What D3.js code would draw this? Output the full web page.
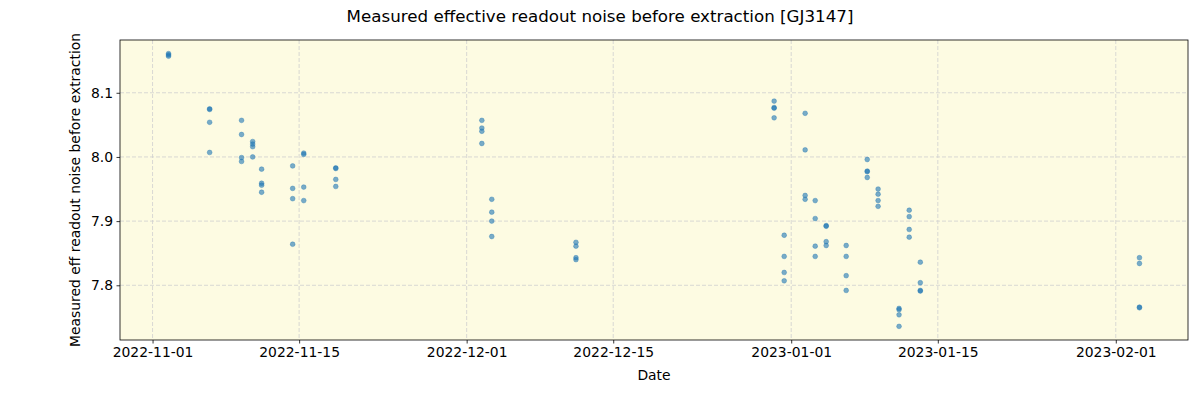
<!DOCTYPE html>
<html><head><meta charset="utf-8">
<script src="https://cdn.jsdelivr.net/npm/d3@7"></script>
<style>body{margin:0;background:#fff;}svg{font-family:"DejaVu Sans",sans-serif;}</style>
</head><body>
<svg id="chart" width="1200" height="400"></svg>
<script>
const obsTimes = [
  "2022-11-02T12:40","2022-11-06T10:50","2022-11-09T12:00","2022-11-10T13:30",
  "2022-11-11T10:00","2022-11-14T09:10","2022-11-15T10:35","2022-11-18T12:00",
  "2022-12-02T10:50","2022-12-03T09:35","2022-12-11T10:35","2022-12-30T08:50",
  "2022-12-31T07:55","2023-01-02T07:55","2023-01-03T07:00","2023-01-04T08:10",
  "2023-01-06T06:00","2023-01-08T06:15","2023-01-09T07:10","2023-01-11T07:10",
  "2023-01-12T06:30","2023-01-13T07:55","2023-02-03T06:15"
];
const noiseValues = [
  [8.161,8.159,8.157],
  [8.075,8.074,8.054,8.007],
  [8.057,8.035,7.999,7.993],
  [8.024,8.020,8.016,8.000],
  [7.981,7.959,7.956,7.945],
  [7.986,7.951,7.935,7.864],
  [8.006,8.004,7.953,7.932],
  [7.983,7.982,7.965,7.954],
  [8.057,8.045,8.040,8.021],
  [7.934,7.914,7.900,7.876],
  [7.867,7.861,7.843,7.840],
  [8.087,8.077,8.076,8.061],
  [7.878,7.845,7.820,7.807],
  [8.068,8.011,7.940,7.934],
  [7.932,7.904,7.861,7.845],
  [7.893,7.892,7.868,7.862],
  [7.862,7.845,7.815,7.792],
  [7.996,7.978,7.977,7.968],
  [7.950,7.942,7.932,7.923],
  [7.764,7.762,7.754,7.736],
  [7.917,7.907,7.887,7.875],
  [7.836,7.804,7.792,7.791],
  [7.843,7.834,7.766,7.765]
];
const xTickLabels = ["2022-11-01","2022-11-15","2022-12-01","2022-12-15","2023-01-01","2023-01-15","2023-02-01"];
const yTickValues = [7.8, 7.9, 8.0, 8.1];

const parse = d3.isoParse;
const points = [];
obsTimes.forEach((t, i) => noiseValues[i].forEach(v => points.push({date: parse(t), value: v})));

const svg = d3.select("#chart");
const L = 120, R = 1188, T = 40, B = 340;

const dates = points.map(p => p.date);
const dmin = d3.min(dates), dmax = d3.max(dates);
const span = dmax - dmin;
const x = d3.scaleTime().domain([new Date(+dmin - span*0.05), new Date(+dmax + span*0.05)]).range([L, R]);
const vmin = d3.min(points, p => p.value), vmax = d3.max(points, p => p.value);
const vs = vmax - vmin;
const y = d3.scaleLinear().domain([vmin - vs*0.05, vmax + vs*0.05]).range([B, T]);

svg.append("rect").attr("x", L).attr("y", T).attr("width", R-L).attr("height", B-T).attr("fill", "#fdfbe2");

const xTicks = xTickLabels.map(s => d3.timeParse("%Y-%m-%d")(s));
const g = svg.append("g");
g.selectAll(".vg").data(xTicks).join("line")
  .attr("x1", d => x(d)).attr("x2", d => x(d)).attr("y1", T).attr("y2", B)
  .attr("stroke", "#cfcfcf").attr("stroke-width", 0.8).attr("stroke-dasharray", "4,2");
g.selectAll(".hg").data(yTickValues).join("line")
  .attr("x1", L).attr("x2", R).attr("y1", d => y(d)).attr("y2", d => y(d))
  .attr("stroke", "#cfcfcf").attr("stroke-width", 0.8).attr("stroke-dasharray", "4,2");

svg.append("g").selectAll("circle").data(points).join("circle")
  .attr("cx", d => x(d.date)).attr("cy", d => y(d.value)).attr("r", 2.4)
  .attr("fill", "#1f77b4").attr("fill-opacity", 0.6)
  .attr("stroke", "#1f77b4").attr("stroke-opacity", 0.6).attr("stroke-width", 0.6);

const xAxis = d3.axisBottom(x).tickValues(xTicks).tickFormat(d3.timeFormat("%Y-%m-%d")).tickSize(3.5).tickPadding(3.5);
const xg = svg.append("g").attr("transform", `translate(0,${B})`).call(xAxis);
const yAxis = d3.axisLeft(y).tickValues(yTickValues).tickFormat(d3.format(".1f")).tickSize(3.5).tickPadding(3.5);
const yg = svg.append("g").attr("transform", `translate(${L},0)`).call(yAxis);
[xg, yg].forEach(a => {
  a.select(".domain").remove();
  a.selectAll("text").attr("font-size", 13.9).attr("fill", "#000").attr("font-family", "DejaVu Sans");
  a.selectAll("line").attr("stroke", "#000").attr("stroke-width", 0.8);
});

svg.append("rect").attr("x", L).attr("y", T).attr("width", R-L).attr("height", B-T)
  .attr("fill", "none").attr("stroke", "#000").attr("stroke-width", 0.8);

svg.append("text").attr("x", 600).attr("y", 22).attr("text-anchor", "middle")
  .attr("font-size", 16.7).text("Measured effective readout noise before extraction [GJ3147]");
svg.append("text").attr("x", (L+R)/2).attr("y", 380).attr("text-anchor", "middle")
  .attr("font-size", 13.9).text("Date");
svg.append("text").attr("transform", `translate(80,${(T+B)/2}) rotate(-90)`).attr("text-anchor", "middle")
  .attr("font-size", 13.9).text("Measured eff readout noise before extraction");
</script>
</body></html>
